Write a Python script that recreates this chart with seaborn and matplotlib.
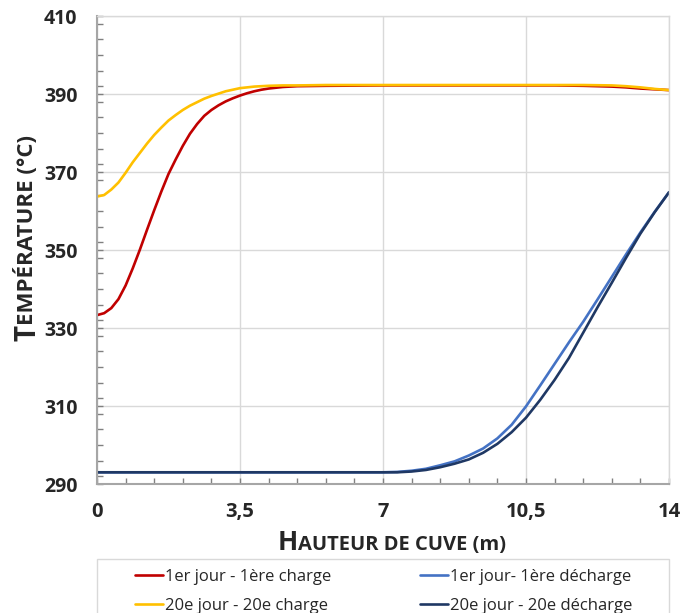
import numpy as np
import pandas as pd
import matplotlib
matplotlib.use("Agg")
import matplotlib.pyplot as plt
from matplotlib.patches import Rectangle
import seaborn as sns
from matplotlib.ticker import MultipleLocator, FixedLocator

# ---- data ----
x_charge = [0, 0.175, 0.35, 0.525, 0.7, 0.875, 1.05, 1.225, 1.4, 1.575, 1.75, 1.925,
            2.1, 2.275, 2.45, 2.625, 2.8, 2.975, 3.15, 3.325, 3.5, 3.675, 3.85, 4.025,
            4.2, 4.55, 4.9, 5.6, 7, 8.4, 9.8, 11.2, 11.9, 12.6, 12.95, 13.3, 13.65, 14]
t_charge_j1 = [333.3, 333.8, 335.1, 337.4, 340.9, 345.3, 350.1, 355.2, 360.2, 365.0,
               369.5, 373.2, 376.7, 379.8, 382.3, 384.4, 385.9, 387.1, 388.1, 388.9,
               389.6, 390.2, 390.7, 391.1, 391.4, 391.8, 392.0, 392.1, 392.2, 392.2,
               392.2, 392.2, 392.1, 391.9, 391.7, 391.4, 391.2, 391.0]
t_charge_j20 = [363.7, 364.1, 365.5, 367.3, 369.8, 372.5, 374.9, 377.3, 379.5, 381.4,
                383.2, 384.6, 385.9, 387.0, 387.9, 388.8, 389.5, 390.1, 390.7, 391.1,
                391.5, 391.7, 391.9, 392.0, 392.1, 392.2, 392.2, 392.3, 392.3, 392.3,
                392.3, 392.3, 392.3, 392.2, 392.0, 391.7, 391.3, 391.0]

x_decharge = [0, 3.5, 7, 7.35, 7.7, 8.05, 8.4, 8.75, 9.1, 9.45, 9.8, 10.15, 10.5, 10.85,
              11.2, 11.55, 11.9, 12.25, 12.6, 12.95, 13.3, 13.65, 14]
t_decharge_j1 = [293.0, 293.0, 293.0, 293.1, 293.4, 293.9, 294.8, 295.8, 297.3, 299.1,
                 301.7, 305.2, 309.9, 315.3, 320.8, 326.3, 331.6, 337.3, 343.1, 348.9,
                 354.5, 359.8, 364.8]
t_decharge_j20 = [293.0, 293.0, 293.0, 293.0, 293.2, 293.6, 294.3, 295.2, 296.3, 298.0,
                  300.3, 303.3, 307.0, 311.6, 316.7, 322.3, 328.8, 335.3, 341.6, 348.0,
                  354.2, 359.7, 364.8]

series_names = ["1er jour - 1ère charge", "20e jour - 20e charge",
                "1er jour- 1ère décharge", "20e jour - 20e décharge"]
series_colors = ["#C00000", "#FFC000", "#4472C4", "#1F3864"]

x_ticks = [0, 3.5, 7, 10.5, 14]
x_ticklabels = ["0", "3,5", "7", "10,5", "14"]
y_ticks = [290, 310, 330, 350, 370, 390, 410]

frames = []
for name, xs, ys in [(series_names[0], x_charge, t_charge_j1),
                     (series_names[1], x_charge, t_charge_j20),
                     (series_names[2], x_decharge, t_decharge_j1),
                     (series_names[3], x_decharge, t_decharge_j20)]:
    frames.append(pd.DataFrame({"x": xs, "T": ys, "serie": name}))
df = pd.concat(frames, ignore_index=True)

sns.set_theme(style="white")
plt.rcParams["font.family"] = ["Open Sans", "DejaVu Sans"]

W, H = 682, 613
fig = plt.figure(figsize=(W/100, H/100), dpi=100)
ax = fig.add_axes([97/W, 1 - 484/H, (669-97)/W, (484-16)/H])

sns.lineplot(data=df, x="x", y="T", hue="serie", hue_order=series_names,
             palette=series_colors, sort=False, estimator=None, linewidth=1.9,
             ax=ax, legend=True, solid_joinstyle="round", solid_capstyle="round")

ax.set_xlim(0, 14)
ax.set_ylim(290, 410)
ax.xaxis.set_major_locator(FixedLocator(x_ticks))
ax.set_xticklabels(x_ticklabels)
ax.xaxis.set_minor_locator(MultipleLocator(0.7))
ax.yaxis.set_major_locator(FixedLocator(y_ticks))
ax.yaxis.set_minor_locator(MultipleLocator(4))
ax.grid(True, which="major", color="#D9D9D9", linewidth=1.0)
ax.set_axisbelow(True)
ax.tick_params(which="both", direction="in", length=4, color="#808080", width=1,
               bottom=True, left=True, top=False, right=False)
ax.tick_params(axis="x", which="major", pad=13, labelsize=14.5)
ax.tick_params(axis="y", which="major", pad=14, labelsize=14)
for lab in ax.get_xticklabels() + ax.get_yticklabels():
    lab.set_fontweight("bold")
for s in ["left", "bottom"]:
    ax.spines[s].set_color("#A6A6A6")
    ax.spines[s].set_linewidth(1.5)
for s in ["top", "right"]:
    ax.spines[s].set_color("#D9D9D9")
    ax.spines[s].set_linewidth(1.0)
ax.set_xlabel("")
ax.set_ylabel("")

# legend: two columns placed separately, frame drawn as a rectangle (cut off at bottom)
handles, labels = ax.get_legend_handles_labels()
ax.get_legend().remove()
leg_kw = dict(loc="upper left", frameon=False, fontsize=12, handlelength=1.7,
              handletextpad=0.1, borderpad=0, labelspacing=0.75, borderaxespad=0)
leg1 = fig.legend(handles[:2], labels[:2], bbox_to_anchor=(135/W, 1 - 569/H), **leg_kw)
leg2 = fig.legend(handles[2:], labels[2:], bbox_to_anchor=(420/W, 1 - 569/H), **leg_kw)
for lg in (leg1, leg2):
    for lh in lg.get_lines():
        lh.set_linewidth(1.9)
fig.add_artist(Rectangle((97/W, -0.05), (669-97)/W, (H-559)/H + 0.05,
                         transform=fig.transFigure, fill=False,
                         edgecolor="#D9D9D9", linewidth=1.0))

# small-caps style axis titles
fig.canvas.draw()
r = fig.canvas.get_renderer()
big = fig.text(0, 0, "H", fontsize=19, fontweight="bold", transform=None)
small = fig.text(0, 0, "AUTEUR DE CUVE (m)", fontsize=14.5, fontweight="bold", transform=None)
fig.canvas.draw()
wb = big.get_window_extent(r).width
ws = small.get_window_extent(r).width
total = wb + ws
cx, base_y = 392, H - 550
big.set_position((cx - total/2, base_y))
small.set_position((cx - total/2 + wb, base_y))

bigy = fig.text(0, 0, "T", fontsize=20, fontweight="bold", rotation=90,
                transform=None, va="bottom", ha="left")
smally = fig.text(0, 0, "EMPÉRATURE (°C)", fontsize=16, fontweight="bold", rotation=90,
                  transform=None, va="bottom", ha="left")
fig.canvas.draw()
hb = bigy.get_window_extent(r).height
hs = smally.get_window_extent(r).height
tot = hb + hs
cy = H - 238
base_x = 14
bigy.set_position((base_x, cy - tot/2))
smally.set_position((base_x, cy - tot/2 + hb))

fig.savefig("out.png", dpi=100)
